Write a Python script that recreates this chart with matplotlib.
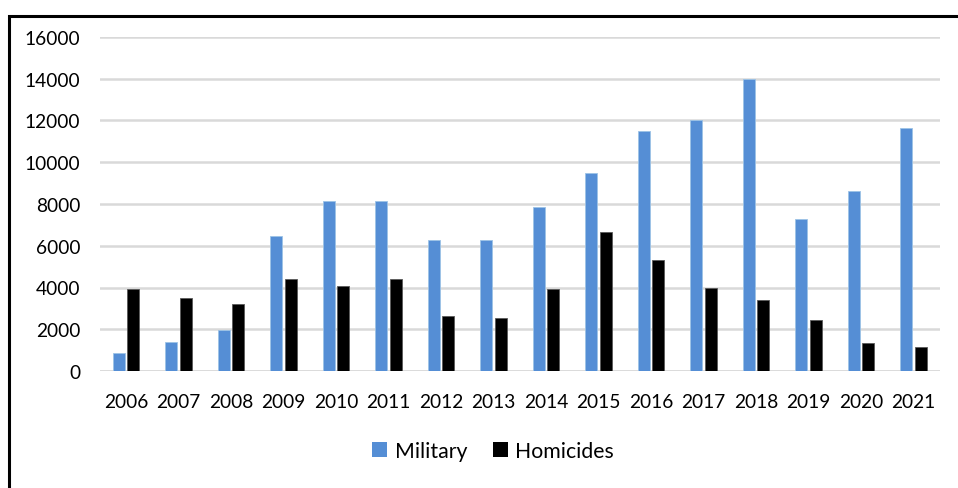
import numpy as np
import matplotlib.pyplot as plt
import matplotlib.patches as mpatches

plt.rcParams['font.family'] = ['Lato', 'DejaVu Sans']

years = ['2006', '2007', '2008', '2009', '2010', '2011', '2012', '2013',
         '2014', '2015', '2016', '2017', '2018', '2019', '2020', '2021']
military = [880, 1400, 1950, 6450, 8150, 8150, 6270, 6280,
            7880, 9500, 11520, 12010, 14000, 7300, 8620, 11650]
homicides = [3950, 3500, 3200, 4400, 4050, 4400, 2630, 2530,
             3950, 6680, 5300, 4000, 3380, 2420, 1360, 1140]

BLUE = '#558ed5'
W = 958 / 100
H = 489 / 100

fig = plt.figure(figsize=(W, H), dpi=100)
fig.patch.set_facecolor('white')

# plot area in pixel terms: x 100..940, y 38..372
ax = fig.add_axes([99.75 / 958, (489 - 372) / 489, 840 / 958, 334 / 489])

x = np.arange(len(years))
bw = 0.23
ax.bar(x - 0.14, military, width=bw, color=BLUE, edgecolor='#9dc3e6',
       linewidth=0.6, label='Military', zorder=3)
ax.bar(x + 0.14, homicides, width=bw, color='black', edgecolor='#595959',
       linewidth=0.6, label='Homicides', zorder=3)

ax.set_xlim(-0.5, len(years) - 0.5)
ax.set_ylim(0, 16000)
ax.set_yticks(np.arange(0, 16001, 2000))
ax.set_xticks(x)
ax.set_xticklabels(years)

ax.yaxis.grid(True, color='#d9d9d9', linewidth=1.8, zorder=0)
ax.set_axisbelow(True)
for s in ax.spines.values():
    s.set_visible(False)
ax.axhline(0, color='#d9d9d9', linewidth=1.8, zorder=2)

ax.tick_params(axis='both', length=0, labelsize=13.8, colors='black')
ax.tick_params(axis='y', pad=14)
ax.tick_params(axis='x', pad=16)

# outer frame around the chart
frame = mpatches.Rectangle((9 / 958, -0.2), 1.2, 1.2 - 17 / 489,
                           transform=fig.transFigure, fill=False,
                           edgecolor='black', linewidth=2.2, clip_on=False)
fig.patches.append(frame)

handles = [mpatches.Patch(facecolor=BLUE, label='Military'),
           mpatches.Patch(facecolor='black', label='Homicides')]
fig.legend(handles=handles, loc='center', bbox_to_anchor=(493 / 958, 1 - 452 / 489),
           ncol=2, frameon=False, fontsize=15.3, handlelength=0.72,
           handleheight=0.72, handletextpad=0.35, columnspacing=1.2)

plt.savefig('out.png', dpi=100, facecolor='white')
